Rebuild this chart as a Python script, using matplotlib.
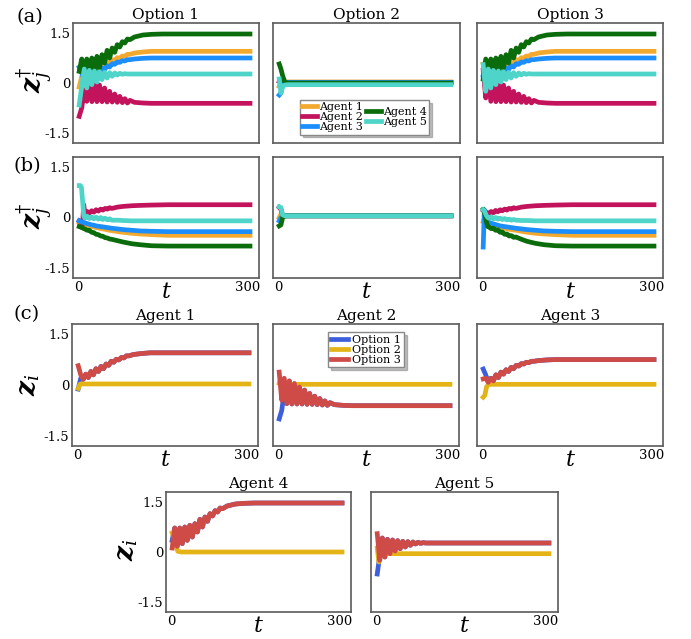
import matplotlib
matplotlib.use('Agg')
import matplotlib.pyplot as plt

plt.rcParams['font.family'] = ['DejaVu Serif']
plt.rcParams['mathtext.fontset'] = 'dejavuserif'

# ---------------- data ----------------
agents = ['Agent 1', 'Agent 2', 'Agent 3', 'Agent 4', 'Agent 5']
options = ['Option 1', 'Option 2', 'Option 3']
agent_colors = ['#F2A92E', '#C2135C', '#1B8EFB', '#0A6C0A', '#4FD4C9']
option_colors = ['#3D5FDB', '#E4B416', '#CE4B47']

# time samples for options 1 and 3 (z)
T = [2, 6.5, 11, 15.5, 20, 24.5, 29, 33.5, 38, 42.5, 47, 51.5, 56, 60.5, 65,
     69.5, 74, 78.5, 83, 87.5, 92, 100, 115, 130, 150, 180, 220, 260, 305]

z_opt3 = {
    'Agent 1': [0.57, 0.3, 0.17, 0.32, 0.22, 0.4, 0.3, 0.48, 0.4, 0.55, 0.48, 0.62, 0.58, 0.7, 0.67,
                0.76, 0.74, 0.81, 0.8, 0.86, 0.86, 0.9, 0.93, 0.95, 0.95, 0.95, 0.95, 0.95, 0.95],
    'Agent 2': [0.38, -0.45, 0.2, -0.55, 0.12, -0.56, 0.04, -0.56, -0.06, -0.56, -0.15, -0.57, -0.25, -0.57, -0.33,
                -0.58, -0.4, -0.59, -0.47, -0.6, -0.52, -0.58, -0.6, -0.61, -0.61, -0.61, -0.61, -0.61, -0.61],
    'Agent 3': [0.18, 0.2, 0.08, 0.2, 0.12, 0.3, 0.22, 0.38, 0.32, 0.45, 0.4, 0.52, 0.48, 0.58, 0.56,
                0.63, 0.62, 0.67, 0.66, 0.7, 0.7, 0.72, 0.74, 0.75, 0.75, 0.75, 0.75, 0.75, 0.75],
    'Agent 4': [0.12, 0.72, 0.17, 0.72, 0.25, 0.75, 0.35, 0.8, 0.45, 0.85, 0.6, 0.98, 0.75, 1.05, 0.92,
                1.15, 1.08, 1.24, 1.2, 1.32, 1.3, 1.38, 1.44, 1.46, 1.47, 1.47, 1.47, 1.47, 1.47],
    'Agent 5': [0.55, -0.25, 0.42, -0.15, 0.38, -0.05, 0.36, 0.03, 0.34, 0.1, 0.32, 0.15, 0.31, 0.2, 0.3,
                0.24, 0.29, 0.26, 0.28, 0.27, 0.27, 0.27, 0.27, 0.27, 0.27, 0.27, 0.27, 0.27, 0.27],
}
z_opt1 = {
    'Agent 1': [-0.12, 0.2, 0.17, 0.32, 0.22, 0.4, 0.3, 0.48, 0.4, 0.55, 0.48, 0.62, 0.58, 0.7, 0.67,
                0.76, 0.74, 0.81, 0.8, 0.86, 0.86, 0.9, 0.93, 0.95, 0.95, 0.95, 0.95, 0.95, 0.95],
    'Agent 2': [-1.0, -0.75, -0.2, -0.55, 0.12, -0.56, 0.04, -0.56, -0.06, -0.56, -0.15, -0.57, -0.25, -0.57, -0.33,
                -0.58, -0.4, -0.59, -0.47, -0.6, -0.52, -0.58, -0.6, -0.61, -0.61, -0.61, -0.61, -0.61, -0.61],
    'Agent 3': [0.47, 0.3, 0.08, 0.2, 0.12, 0.3, 0.22, 0.38, 0.32, 0.45, 0.4, 0.52, 0.48, 0.58, 0.56,
                0.63, 0.62, 0.67, 0.66, 0.7, 0.7, 0.72, 0.74, 0.75, 0.75, 0.75, 0.75, 0.75, 0.75],
    'Agent 4': [0.35, 0.72, 0.17, 0.72, 0.25, 0.75, 0.35, 0.8, 0.45, 0.85, 0.6, 0.98, 0.75, 1.05, 0.92,
                1.15, 1.08, 1.24, 1.2, 1.32, 1.3, 1.38, 1.44, 1.46, 1.47, 1.47, 1.47, 1.47, 1.47],
    'Agent 5': [-0.66, -0.1, 0.42, -0.15, 0.38, -0.05, 0.36, 0.03, 0.34, 0.1, 0.32, 0.15, 0.31, 0.2, 0.3,
                0.24, 0.29, 0.26, 0.28, 0.27, 0.27, 0.27, 0.27, 0.27, 0.27, 0.27, 0.27, 0.27, 0.27],
}

# time samples for option 2 (short transient, then flat)
T2 = [2, 5, 8, 12, 18, 305]
z_opt2 = {
    'Agent 1': [-0.1, 0.02, 0.04, 0.03, 0.03, 0.03],
    'Agent 2': [0.05, 0.03, 0.02, 0.02, 0.02, 0.02],
    'Agent 3': [-0.36, -0.3, -0.05, 0.02, 0.02, 0.02],
    'Agent 4': [0.57, 0.42, 0.22, 0.02, 0.0, 0.0],
    'Agent 5': [0.12, -0.3, -0.1, -0.06, -0.05, -0.05],
}

# row (b): z-dagger
TB = [2, 4, 6, 8, 10, 12, 16, 20, 24, 28, 32, 36, 40, 44, 48, 52, 56, 60,
      70, 80, 95, 110, 130, 160, 200, 250, 305]
zd_opt1 = {
    'Agent 1': [-0.15, -0.17, -0.18, -0.19, -0.2, -0.21, -0.23, -0.25, -0.27, -0.28, -0.3, -0.31, -0.33, -0.34,
                -0.35, -0.37, -0.38, -0.39, -0.42, -0.44, -0.47, -0.49, -0.51, -0.53, -0.53, -0.53, -0.53],
    'Agent 2': [-0.1, -0.12, -0.15, -0.2, 0.38, 0.12, 0.18, 0.13, 0.2, 0.16, 0.23, 0.19, 0.25, 0.22,
                0.27, 0.25, 0.29, 0.27, 0.31, 0.33, 0.35, 0.36, 0.37, 0.38, 0.38, 0.38, 0.38],
    'Agent 3': [-0.1, -0.12, -0.13, -0.14, -0.15, -0.16, -0.18, -0.2, -0.22, -0.23, -0.25, -0.26, -0.27, -0.28,
                -0.29, -0.3, -0.31, -0.32, -0.34, -0.36, -0.38, -0.4, -0.41, -0.42, -0.42, -0.42, -0.42],
    'Agent 4': [-0.27, -0.28, -0.3, -0.31, -0.33, -0.34, -0.38, -0.38, -0.44, -0.45, -0.5, -0.51, -0.55, -0.56,
                -0.6, -0.61, -0.64, -0.65, -0.69, -0.73, -0.78, -0.81, -0.84, -0.85, -0.85, -0.85, -0.85],
    'Agent 5': [0.95, 0.95, 0.9, 0.5, 0.05, -0.02, 0.04, -0.03, 0.02, -0.04, 0.01, -0.05, 0.0, -0.06,
                -0.02, -0.07, -0.04, -0.08, -0.08, -0.09, -0.1, -0.1, -0.1, -0.1, -0.1, -0.1, -0.1],
}
zd_opt3 = {
    'Agent 1': [-0.12, -0.13, -0.15, -0.16, -0.17, -0.18, -0.21, -0.23, -0.25, -0.27, -0.29, -0.3, -0.32, -0.33,
                -0.35, -0.36, -0.37, -0.38, -0.41, -0.44, -0.47, -0.49, -0.51, -0.53, -0.53, -0.53, -0.53],
    'Agent 2': [0.23, 0.22, 0.18, 0.15, 0.13, 0.12, 0.18, 0.14, 0.21, 0.17, 0.23, 0.2, 0.25, 0.22,
                0.27, 0.25, 0.29, 0.27, 0.31, 0.33, 0.35, 0.36, 0.37, 0.38, 0.38, 0.38, 0.38],
    'Agent 3': [-0.88, 0.23, 0.0, -0.1, -0.12, -0.14, -0.17, -0.19, -0.21, -0.23, -0.25, -0.26, -0.27, -0.28,
                -0.29, -0.3, -0.31, -0.32, -0.34, -0.36, -0.38, -0.4, -0.41, -0.42, -0.42, -0.42, -0.42],
    'Agent 4': [0.23, 0.15, 0.0, -0.15, -0.27, -0.28, -0.33, -0.32, -0.38, -0.37, -0.44, -0.43, -0.5, -0.49,
                -0.55, -0.54, -0.59, -0.58, -0.65, -0.71, -0.77, -0.81, -0.84, -0.85, -0.85, -0.85, -0.85],
    'Agent 5': [0.23, 0.2, 0.12, 0.05, 0.0, -0.02, 0.02, -0.04, 0.0, -0.05, -0.02, -0.06, -0.03, -0.07,
                -0.05, -0.08, -0.06, -0.08, -0.09, -0.09, -0.1, -0.1, -0.1, -0.1, -0.1, -0.1, -0.1],
}
zd_opt2 = {
    'Agent 1': [0.0, 0.1, 0.05, 0.05, 0.05, 0.05],
    'Agent 2': [0.3, 0.25, 0.05, 0.05, 0.05, 0.05],
    'Agent 3': [-0.1, 0.0, 0.05, 0.05, 0.05, 0.05],
    'Agent 4': [-0.25, -0.22, 0.0, 0.05, 0.05, 0.05],
    'Agent 5': [0.32, 0.3, 0.08, 0.05, 0.05, 0.05],
}

x_ticks = [0, 300]
x_ticklabels = ['0', '300']
y_ticks = [-1.5, 0, 1.5]
y_ticklabels = ['-1.5', '0', '1.5']

# ---------------- figure ----------------
W, H = 691, 639
fig = plt.figure(figsize=(W / 100, H / 100), dpi=100)
LW = 3.4


def add_ax(x0, x1, y0, y1):
    return fig.add_axes([x0 / W, 1 - y1 / H, (x1 - x0) / W, (y1 - y0) / H])


def style(ax, ylab, xlab, title=None):
    ax.set_xlim(-9, 321)
    ax.set_ylim(-1.8, 1.8)
    ax.set_xticks(x_ticks)
    ax.set_yticks(y_ticks)
    ax.set_xticklabels(x_ticklabels if xlab else ['', ''])
    ax.set_yticklabels(y_ticklabels if ylab else ['', '', ''])
    ax.tick_params(length=0, labelsize=9.5, pad=2)
    for s in ax.spines.values():
        s.set_color('#5a5a5a')
        s.set_linewidth(1.2)
    if xlab:
        ax.text(0.5, -0.025, r'$t$', transform=ax.transAxes, ha='center',
                va='top', fontsize=16)
    if title:
        ax.set_title(title, fontsize=11, pad=3)


cols = [(73, 259), (273, 460), (477, 663)]
shadow_kw = {'alpha': 0.35}

# row (a)
rowa = (23, 143)
data_a = [z_opt1, z_opt2, z_opt3]
for j, (x0, x1) in enumerate(cols):
    ax = add_ax(x0, x1, *rowa)
    tt = T2 if j == 1 else T
    for i, ag in enumerate(agents):
        ax.plot(tt, data_a[j][ag], color=agent_colors[i], lw=LW, label=ag)
    style(ax, j == 0, False, options[j])
    if j == 1:
        leg = ax.legend(ncol=2, loc='lower center', bbox_to_anchor=(0.49, 0.07),
                        fontsize=8, labelspacing=0.0, handlelength=1.3,
                        handletextpad=0.2, columnspacing=0.3, borderpad=0.2,
                        borderaxespad=0, fancybox=False, shadow=shadow_kw,
                        edgecolor='#888888', framealpha=1)
        leg._legend_handle_box.align = 'center'

# row (b)
rowb = (157, 278)
data_b = [zd_opt1, zd_opt2, zd_opt3]
for j, (x0, x1) in enumerate(cols):
    ax = add_ax(x0, x1, *rowb)
    tt = T2 if j == 1 else TB
    for i, ag in enumerate(agents):
        ax.plot(tt, data_b[j][ag], color=agent_colors[i], lw=LW)
    style(ax, j == 0, True)

# rows (c) and bottom
rowc = (324, 446)
cols_c = [(72, 258), (273, 459), (477, 663)]
pos_c = [(cols_c[0], rowc), (cols_c[1], rowc), (cols_c[2], rowc),
         ((166, 351), (492, 612)), ((371, 558), (492, 612))]
for i, ag in enumerate(agents):
    (x0, x1), (y0, y1) = pos_c[i]
    ax = add_ax(x0, x1, y0, y1)
    series = [(T, z_opt1[ag]), (T2, z_opt2[ag]), (T, z_opt3[ag])]
    for k, (tt, vv) in enumerate(series):
        ax.plot(tt, vv, color=option_colors[k], lw=LW, label=options[k])
    style(ax, i in (0, 3), True, ag)
    if i == 1:
        ax.legend(loc='upper center', bbox_to_anchor=(0.5, 0.935),
                  fontsize=8, labelspacing=0.0, handlelength=1.5,
                  handletextpad=0.4, borderpad=0.25, borderaxespad=0,
                  fancybox=False, shadow=shadow_kw, edgecolor='#888888',
                  framealpha=1)

# y labels and panel letters
fig.text(35 / W, 1 - 80 / H, r'$\mathbfit{z}_j^{\dagger}$', rotation=90,
         ha='center', va='center', fontsize=19)
fig.text(35 / W, 1 - 216 / H, r'$\mathbfit{z}_j^{\dagger}$', rotation=90,
         ha='center', va='center', fontsize=19)
fig.text(30 / W, 1 - 385 / H, r'$\mathbfit{z}_i$', rotation=90,
         ha='center', va='center', fontsize=19)
fig.text(127 / W, 1 - 550 / H, r'$\mathbfit{z}_i$', rotation=90,
         ha='center', va='center', fontsize=19)

fig.text(30 / W, 1 - 17 / H, '(a)', ha='center', va='center', fontsize=14)
fig.text(27 / W, 1 - 166 / H, '(b)', ha='center', va='center', fontsize=14)
fig.text(27 / W, 1 - 314 / H, '(c)', ha='center', va='center', fontsize=14)

fig.savefig('out.png', dpi=100)
